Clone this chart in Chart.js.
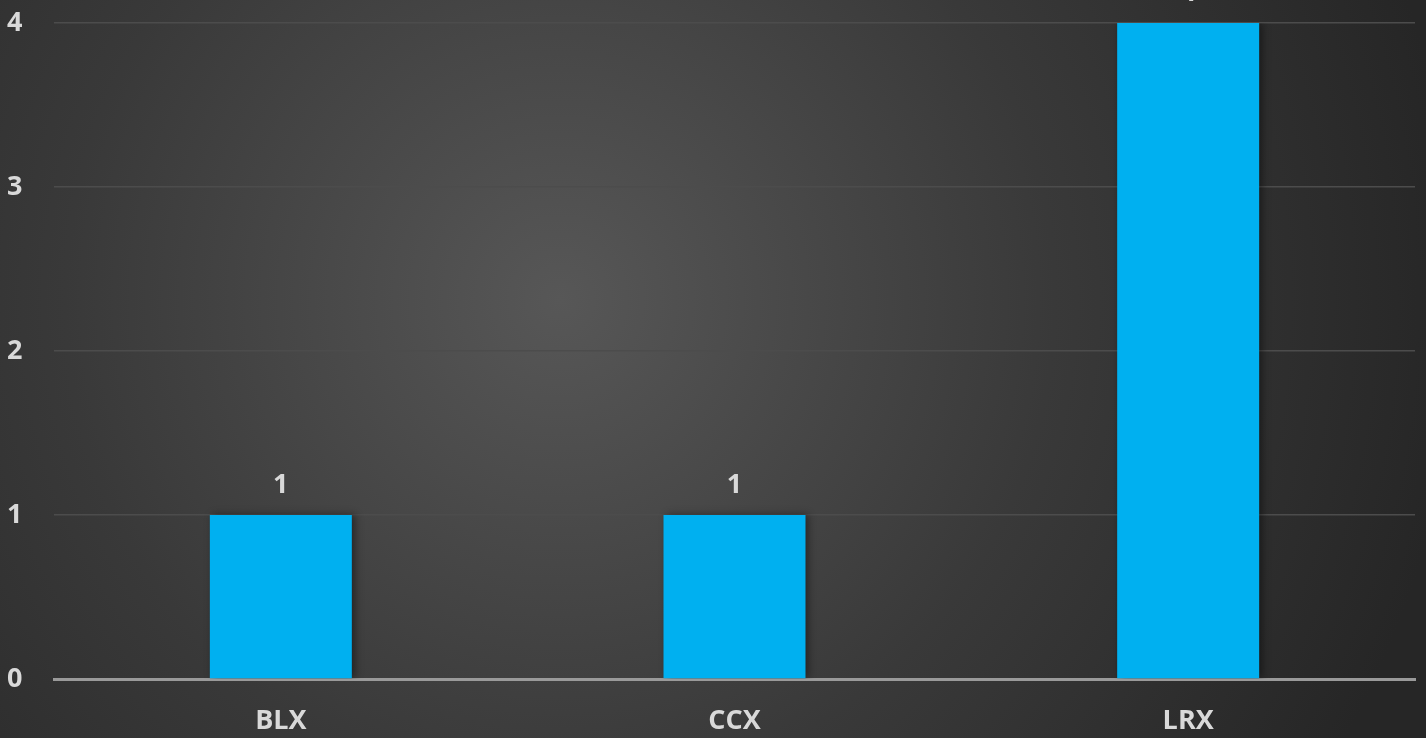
<!DOCTYPE html>
<html>
<head>
<meta charset="utf-8">
<script src="https://cdn.jsdelivr.net/npm/chart.js@4"></script>
<style>
  html, body { margin: 0; padding: 0; background: #2a2a2a; }
  #wrap { width: 1426px; height: 738px; }
</style>
</head>
<body>
<div id="wrap"><canvas id="countChart"></canvas></div>
<script>
const categories = ['BLX', 'CCX', 'LRX'];
const counts = [1, 1, 4];
const yTicks = [0, 1, 2, 3, 4];

const labelFont = { family: '"Open Sans", "Noto Sans", sans-serif', size: 27, weight: 'bold' };
const textColor = '#d9d9d9';

// dark radial backdrop behind everything
const backdrop = {
  id: 'backdrop',
  beforeDraw(chart) {
    const { ctx, width, height } = chart;
    const g = ctx.createRadialGradient(560, 300, 0, 560, 300, 900);
    g.addColorStop(0, '#575757');
    g.addColorStop(0.55, '#393939');
    g.addColorStop(1, '#262626');
    ctx.save();
    ctx.fillStyle = g;
    ctx.fillRect(0, 0, width, height);
    ctx.restore();
  }
};

// soft shadow under bars
const barShadow = {
  id: 'barShadow',
  beforeDatasetDraw(chart) {
    const ctx = chart.ctx;
    ctx.save();
    ctx.shadowColor = 'rgba(0,0,0,0.45)';
    ctx.shadowBlur = 8;
    ctx.shadowOffsetX = 3;
    ctx.shadowOffsetY = 0;
  },
  afterDatasetDraw(chart) {
    chart.ctx.restore();
  }
};

// value labels above each bar
const valueLabels = {
  id: 'valueLabels',
  afterDatasetsDraw(chart) {
    const ctx = chart.ctx;
    const meta = chart.getDatasetMeta(0);
    ctx.save();
    ctx.font = `${labelFont.weight} ${labelFont.size}px ${labelFont.family}`;
    ctx.fillStyle = textColor;
    ctx.textAlign = 'center';
    ctx.textBaseline = 'middle';
    meta.data.forEach((bar, i) => {
      ctx.fillText(String(counts[i]), bar.x, bar.y - 30);
    });
    ctx.restore();
  }
};

new Chart(document.getElementById('countChart'), {
  type: 'bar',
  data: {
    labels: categories,
    datasets: [{
      data: counts,
      backgroundColor: '#00b0f0',
      borderWidth: 0,
      categoryPercentage: 1,
      barPercentage: 0.313
    }]
  },
  options: {
    responsive: true,
    maintainAspectRatio: false,
    animation: false,
    layout: { padding: { top: 23, right: 11, left: 7, bottom: 0 } },
    plugins: { legend: { display: false }, tooltip: { enabled: false } },
    scales: {
      x: {
        grid: { display: false, drawTicks: false },
        border: { display: true, color: '#9a9a9a', width: 3 },
        ticks: { color: textColor, font: labelFont, padding: 26 },
        afterFit(scale) { scale.height = 59; }
      },
      y: {
        min: 0,
        max: 4,
        afterBuildTicks(scale) { scale.ticks = yTicks.map(v => ({ value: v })); },
        grid: { color: '#4c4c4c', lineWidth: 1.5, drawTicks: false },
        border: { display: false },
        ticks: { color: textColor, font: labelFont, padding: 0, crossAlign: 'far' },
        afterFit(scale) { scale.width = 47; }
      }
    }
  },
  plugins: [backdrop, barShadow, valueLabels]
});
</script>
</body>
</html>
